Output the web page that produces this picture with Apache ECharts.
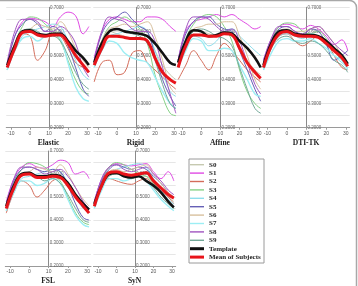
<!DOCTYPE html>
<html>
<head>
<meta charset="utf-8">
<script src="https://cdn.jsdelivr.net/npm/echarts@6/dist/echarts.min.js"></script>
<style>
  html, body { margin: 0; padding: 0; background: #fff; }
  #main { width: 358px; height: 286px; }
</style>
</head>
<body>
<div id="main"></div>
<script>
// sample positions along the x axis (same for every curve)
const xs = [-12, -8, -4, 0, 4, 8, 12, 16, 20, 24, 28, 31]
const xTicks = [-10, 0, 10, 20, 30]
const yLabels = [0.2, 0.3, 0.4, 0.5, 0.6, 0.7]

const names = ['S0', 'S1', 'S2', 'S3', 'S4', 'S5', 'S6', 'S7', 'S8', 'S9', 'Template', 'Mean of Subjects']
const methods = ['Elastic', 'Rigid', 'Affine', 'DTI-TK', 'FSL', 'SyN']

// rows follow the order of names
const elastic = [
  [0.46, 0.55, 0.60, 0.60, 0.59, 0.58, 0.60, 0.59, 0.55, 0.50, 0.46, 0.43],
  [0.47, 0.58, 0.64, 0.655, 0.65, 0.64, 0.62, 0.66, 0.68, 0.665, 0.59, 0.62],
  [0.46, 0.55, 0.59, 0.58, 0.48, 0.52, 0.59, 0.58, 0.53, 0.47, 0.45, 0.43],
  [0.44, 0.55, 0.62, 0.66, 0.655, 0.63, 0.60, 0.56, 0.48, 0.40, 0.35, 0.34],
  [0.44, 0.52, 0.58, 0.60, 0.61, 0.62, 0.63, 0.62, 0.56, 0.48, 0.42, 0.40],
  [0.46, 0.58, 0.63, 0.65, 0.63, 0.60, 0.62, 0.60, 0.54, 0.45, 0.36, 0.33],
  [0.46, 0.55, 0.60, 0.61, 0.63, 0.62, 0.61, 0.64, 0.60, 0.53, 0.48, 0.45],
  [0.44, 0.52, 0.57, 0.58, 0.56, 0.58, 0.59, 0.57, 0.47, 0.37, 0.32, 0.31],
  [0.47, 0.60, 0.65, 0.65, 0.64, 0.60, 0.60, 0.62, 0.60, 0.55, 0.45, 0.41],
  [0.45, 0.54, 0.60, 0.61, 0.60, 0.58, 0.58, 0.56, 0.50, 0.43, 0.38, 0.36],
  [0.46, 0.54, 0.60, 0.605, 0.59, 0.585, 0.59, 0.59, 0.56, 0.52, 0.49, 0.46],
  [0.45, 0.53, 0.595, 0.60, 0.585, 0.58, 0.585, 0.585, 0.55, 0.50, 0.46, 0.43]
]
const rigid = [
  [0.47, 0.55, 0.60, 0.59, 0.58, 0.57, 0.59, 0.58, 0.52, 0.46, 0.42, 0.40],
  [0.49, 0.60, 0.65, 0.66, 0.65, 0.64, 0.64, 0.66, 0.66, 0.65, 0.62, 0.60],
  [0.39, 0.47, 0.48, 0.42, 0.43, 0.51, 0.52, 0.47, 0.44, 0.41, 0.38, 0.36],
  [0.46, 0.56, 0.62, 0.64, 0.66, 0.64, 0.61, 0.55, 0.42, 0.33, 0.26, 0.25],
  [0.46, 0.53, 0.58, 0.59, 0.60, 0.61, 0.62, 0.60, 0.52, 0.43, 0.35, 0.33],
  [0.48, 0.59, 0.64, 0.66, 0.68, 0.65, 0.62, 0.60, 0.50, 0.40, 0.33, 0.29],
  [0.47, 0.56, 0.61, 0.62, 0.63, 0.62, 0.63, 0.64, 0.58, 0.48, 0.37, 0.34],
  [0.45, 0.52, 0.56, 0.55, 0.51, 0.49, 0.48, 0.47, 0.41, 0.35, 0.30, 0.28],
  [0.48, 0.60, 0.66, 0.65, 0.64, 0.61, 0.60, 0.60, 0.56, 0.45, 0.34, 0.26],
  [0.46, 0.55, 0.60, 0.61, 0.60, 0.59, 0.58, 0.55, 0.48, 0.38, 0.30, 0.28],
  [0.47, 0.55, 0.60, 0.61, 0.60, 0.595, 0.59, 0.58, 0.55, 0.51, 0.47, 0.46],
  [0.46, 0.53, 0.58, 0.58, 0.575, 0.57, 0.57, 0.56, 0.49, 0.43, 0.40, 0.385]
]
const affine = [
  [0.47, 0.56, 0.60, 0.60, 0.59, 0.58, 0.59, 0.58, 0.54, 0.48, 0.44, 0.42],
  [0.48, 0.60, 0.64, 0.65, 0.66, 0.67, 0.66, 0.67, 0.65, 0.63, 0.61, 0.62],
  [0.40, 0.46, 0.52, 0.48, 0.44, 0.50, 0.55, 0.52, 0.48, 0.44, 0.41, 0.39],
  [0.46, 0.57, 0.63, 0.66, 0.67, 0.66, 0.62, 0.56, 0.44, 0.35, 0.30, 0.28],
  [0.45, 0.53, 0.58, 0.57, 0.54, 0.56, 0.60, 0.61, 0.58, 0.55, 0.52, 0.50],
  [0.48, 0.59, 0.64, 0.66, 0.66, 0.63, 0.61, 0.60, 0.52, 0.44, 0.36, 0.31],
  [0.47, 0.56, 0.61, 0.62, 0.63, 0.63, 0.64, 0.64, 0.58, 0.50, 0.40, 0.36],
  [0.45, 0.52, 0.57, 0.56, 0.52, 0.52, 0.53, 0.52, 0.46, 0.40, 0.34, 0.33],
  [0.48, 0.61, 0.66, 0.66, 0.65, 0.62, 0.60, 0.61, 0.56, 0.47, 0.38, 0.34],
  [0.46, 0.55, 0.60, 0.61, 0.60, 0.58, 0.57, 0.54, 0.45, 0.36, 0.28, 0.26],
  [0.47, 0.56, 0.605, 0.60, 0.58, 0.585, 0.595, 0.59, 0.56, 0.53, 0.49, 0.45],
  [0.45, 0.54, 0.585, 0.585, 0.58, 0.58, 0.59, 0.585, 0.53, 0.47, 0.43, 0.405]
]
const dtitk = [
  [0.46, 0.55, 0.59, 0.60, 0.59, 0.58, 0.59, 0.58, 0.55, 0.52, 0.49, 0.47],
  [0.48, 0.57, 0.62, 0.63, 0.62, 0.61, 0.625, 0.61, 0.58, 0.545, 0.565, 0.52],
  [0.46, 0.54, 0.58, 0.59, 0.56, 0.54, 0.56, 0.58, 0.56, 0.50, 0.45, 0.44],
  [0.45, 0.56, 0.62, 0.635, 0.63, 0.60, 0.59, 0.60, 0.57, 0.52, 0.48, 0.46],
  [0.44, 0.53, 0.58, 0.59, 0.58, 0.57, 0.59, 0.58, 0.54, 0.50, 0.47, 0.45],
  [0.47, 0.56, 0.61, 0.62, 0.60, 0.58, 0.61, 0.60, 0.55, 0.48, 0.50, 0.52],
  [0.46, 0.55, 0.60, 0.61, 0.60, 0.60, 0.61, 0.62, 0.59, 0.55, 0.50, 0.46],
  [0.44, 0.51, 0.56, 0.57, 0.56, 0.56, 0.57, 0.55, 0.53, 0.50, 0.48, 0.44],
  [0.48, 0.57, 0.62, 0.62, 0.60, 0.59, 0.61, 0.62, 0.59, 0.55, 0.52, 0.50],
  [0.45, 0.53, 0.57, 0.58, 0.56, 0.55, 0.56, 0.55, 0.52, 0.48, 0.46, 0.43],
  [0.46, 0.55, 0.60, 0.605, 0.59, 0.585, 0.585, 0.58, 0.56, 0.53, 0.50, 0.465],
  [0.45, 0.54, 0.59, 0.60, 0.585, 0.58, 0.58, 0.575, 0.55, 0.52, 0.49, 0.455]
]
const fsl = [
  [0.46, 0.55, 0.60, 0.60, 0.59, 0.58, 0.59, 0.59, 0.55, 0.50, 0.46, 0.44],
  [0.48, 0.58, 0.63, 0.645, 0.63, 0.625, 0.64, 0.66, 0.65, 0.60, 0.61, 0.58],
  [0.43, 0.52, 0.57, 0.55, 0.50, 0.53, 0.57, 0.58, 0.55, 0.51, 0.46, 0.44],
  [0.45, 0.56, 0.62, 0.65, 0.645, 0.63, 0.60, 0.57, 0.50, 0.43, 0.39, 0.38],
  [0.44, 0.53, 0.58, 0.59, 0.60, 0.61, 0.62, 0.61, 0.56, 0.50, 0.45, 0.44],
  [0.46, 0.57, 0.62, 0.63, 0.62, 0.61, 0.62, 0.61, 0.55, 0.47, 0.41, 0.40],
  [0.46, 0.55, 0.60, 0.61, 0.63, 0.62, 0.61, 0.64, 0.60, 0.54, 0.49, 0.46],
  [0.44, 0.52, 0.57, 0.57, 0.55, 0.56, 0.58, 0.56, 0.49, 0.42, 0.38, 0.37],
  [0.47, 0.58, 0.63, 0.63, 0.62, 0.60, 0.61, 0.62, 0.59, 0.54, 0.48, 0.45],
  [0.45, 0.54, 0.59, 0.60, 0.59, 0.57, 0.58, 0.56, 0.51, 0.45, 0.40, 0.39],
  [0.46, 0.55, 0.60, 0.605, 0.59, 0.59, 0.595, 0.59, 0.56, 0.51, 0.47, 0.445],
  [0.45, 0.54, 0.595, 0.60, 0.585, 0.585, 0.59, 0.585, 0.55, 0.50, 0.46, 0.43]
]
const syn = [
  [0.47, 0.56, 0.60, 0.60, 0.59, 0.58, 0.59, 0.59, 0.56, 0.53, 0.50, 0.48],
  [0.48, 0.58, 0.63, 0.645, 0.64, 0.635, 0.64, 0.645, 0.61, 0.58, 0.61, 0.57],
  [0.46, 0.55, 0.58, 0.57, 0.56, 0.555, 0.57, 0.58, 0.55, 0.53, 0.50, 0.47],
  [0.46, 0.57, 0.63, 0.65, 0.64, 0.62, 0.60, 0.59, 0.56, 0.52, 0.48, 0.45],
  [0.46, 0.55, 0.60, 0.62, 0.63, 0.64, 0.645, 0.63, 0.58, 0.53, 0.49, 0.47],
  [0.47, 0.57, 0.62, 0.64, 0.63, 0.62, 0.63, 0.62, 0.59, 0.56, 0.52, 0.50],
  [0.47, 0.56, 0.61, 0.62, 0.61, 0.62, 0.63, 0.64, 0.60, 0.56, 0.52, 0.50],
  [0.45, 0.53, 0.58, 0.58, 0.57, 0.58, 0.59, 0.57, 0.53, 0.49, 0.46, 0.44],
  [0.48, 0.58, 0.63, 0.64, 0.62, 0.61, 0.62, 0.63, 0.60, 0.57, 0.53, 0.51],
  [0.46, 0.55, 0.59, 0.60, 0.59, 0.58, 0.59, 0.57, 0.54, 0.50, 0.47, 0.45],
  [0.47, 0.55, 0.60, 0.605, 0.59, 0.585, 0.59, 0.57, 0.55, 0.52, 0.48, 0.455],
  [0.46, 0.55, 0.605, 0.61, 0.60, 0.595, 0.60, 0.605, 0.57, 0.54, 0.51, 0.495]
]
const methodData = [elastic, rigid, affine, dtitk, fsl, syn]

const colors = ['#c6c9b0', '#e04ae4', '#d46c5a', '#86d286', '#8fdeec', '#6660b6',
  '#d8c09e', '#9ceef4', '#a054c0', '#72a898', '#111111', '#e8141a']
const widths = [1, 1, 1, 1, 1, 1, 1, 1.4, 1, 1, 2.6, 3]

const xMin = -12.5
const xMax = 32

// panel boxes
const panels = [
  { left: 6.25, top: 7.3, width: 84.5, height: 120.4 },
  { left: 93.25, top: 7.3, width: 84.5, height: 120.4 },
  { left: 177.2, top: 7.3, width: 85.4, height: 120.4 },
  { left: 262.5, top: 7.3, width: 87.2, height: 120.4 },
  { left: 5.3, top: 151, width: 85.7, height: 120 },
  { left: 93.4, top: 151, width: 82.3, height: 120 }
]

const chart = echarts.init(document.getElementById('main'), null, { renderer: 'canvas' })

const grids = panels.map(p => ({ left: p.left, top: p.top, width: p.width, height: p.height }))

const xAxes = panels.map((p, i) => ({
  gridIndex: i,
  type: 'value',
  min: xMin,
  max: xMax,
  axisLine: { show: true, onZero: false, lineStyle: { color: '#9a9a9a', width: 1 } },
  axisTick: { show: true, customValues: xTicks, length: 2, lineStyle: { color: '#9a9a9a' } },
  axisLabel: { customValues: xTicks, fontSize: 5, color: '#555', margin: 3, fontFamily: 'Liberation Sans' },
  splitLine: { show: false },
  name: methods[i],
  nameLocation: 'middle',
  nameGap: 11,
  nameTextStyle: { fontFamily: 'Liberation Serif', fontWeight: 'bold', fontSize: 7.5, color: '#222' }
}))

const yAxes = panels.map((p, i) => ({
  gridIndex: i,
  type: 'value',
  min: 0.2,
  max: 0.7,
  interval: 0.05,
  position: 'left',
  offset: -(10 - xMin) / (xMax - xMin) * p.width,
  axisLine: { show: true, lineStyle: { color: '#8a8a8a', width: 1 } },
  axisTick: { show: false },
  axisLabel: {
    inside: true,
    customValues: yLabels,
    formatter: v => v.toFixed(4),
    fontSize: 4.5,
    color: '#666',
    margin: 1,
    fontFamily: 'Liberation Sans'
  },
  splitLine: { show: true, lineStyle: { color: '#e6e6e6', width: 1 } }
}))

const series = []
methodData.forEach((rows, i) => {
  rows.forEach((row, k) => {
    series.push({
      name: names[k],
      type: 'line',
      xAxisIndex: i,
      yAxisIndex: i,
      data: xs.map((x, j) => [x, row[j]]),
      smooth: 0.4,
      symbol: 'none',
      showSymbol: false,
      color: colors[k],
      lineStyle: { color: colors[k], width: widths[k] },
      z: k >= 10 ? k - 7 : 2,
      silent: true
    })
  })
})

const legendText = { fontFamily: 'Liberation Serif', fontWeight: 'bold', fontSize: 7, lineHeight: 8, color: '#222' }

const option = {
  animation: false,
  backgroundColor: '#fff',
  grid: grids,
  xAxis: xAxes,
  yAxis: yAxes,
  legend: [
    {
      data: names.slice(0, 10),
      orient: 'vertical',
      left: 190,
      top: 160.7,
      padding: 0,
      itemWidth: 14,
      itemHeight: 1.4,
      itemGap: 0.4,
      icon: 'rect',
      selectedMode: false,
      textStyle: legendText
    },
    {
      data: names.slice(10),
      orient: 'vertical',
      left: 190,
      top: 244.7,
      padding: 0,
      itemWidth: 14,
      itemHeight: 3,
      itemGap: 0.4,
      icon: 'rect',
      selectedMode: false,
      textStyle: legendText
    }
  ],
  graphic: [
    {
      type: 'rect',
      z: 0,
      shape: { x: 189, y: 159, width: 75, height: 104 },
      style: { fill: '#fff', stroke: '#9a9a9a', lineWidth: 1 }
    },
    {
      type: 'rect',
      z: 0,
      shape: { x: -10, y: 0.5, width: 366.5, height: 300, r: 7 },
      style: { fill: null, stroke: '#a8a8a8', lineWidth: 1.5 }
    }
  ],
  series: series
}

chart.setOption(option)
</script>
</body>
</html>
